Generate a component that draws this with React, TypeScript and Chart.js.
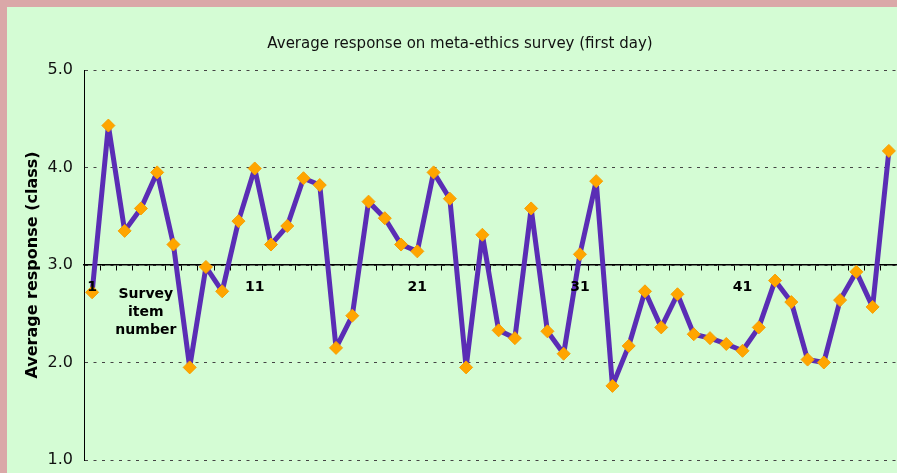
import React, { useEffect, useRef } from 'react';
import { Chart, registerables } from 'chart.js';

Chart.register(...registerables);

const categories = [
  '1', '2', '3', '4', '5', '6', '7', '8', '9', '10',
  '11', '12', '13', '14', '15', '16', '17', '18', '19', '20',
  '21', '22', '23', '24', '25', '26', '27', '28', '29', '30',
  '31', '32', '33', '34', '35', '36', '37', '38', '39', '40',
  '41', '42', '43', '44', '45', '46', '47', '48', '49', '50',
];
const shownTicks = ['1', '11', '21', '31', '41'];
const responses = [
  2.72, 4.43, 3.35, 3.58, 3.95, 3.21, 1.95, 2.98, 2.73, 3.45,
  3.99, 3.21, 3.40, 3.89, 3.82, 2.15, 2.48, 3.65, 3.48, 3.21,
  3.14, 3.95, 3.68, 1.95, 3.31, 2.33, 2.25, 3.58, 2.32, 2.09,
  3.11, 3.86, 1.76, 2.17, 2.73, 2.36, 2.70, 2.29, 2.25, 2.19,
  2.12, 2.36, 2.84, 2.62, 2.03, 2.00, 2.64, 2.93, 2.57, 4.17,
];
const yTicks = [1, 2, 3, 4, 5];
const xAxisCross = 3;
const chartTitle = 'Average response on meta-ethics survey (first day)';
const xTitleLines = ['Survey', 'item', 'number'];
const yTitle = 'Average response (class)';

const FONT = "'DejaVu Sans', Verdana, sans-serif";

const backgroundPlugin = {
  id: 'bgPlugin',
  beforeDraw(chart: any) {
    const { ctx, width, height } = chart;
    ctx.save();
    ctx.fillStyle = '#DAA8A8';
    ctx.fillRect(0, 0, width, height);
    ctx.fillStyle = '#D4FCD4';
    ctx.fillRect(7, 7, width - 7, height - 7);
    ctx.restore();
  },
};

const textPlugin = {
  id: 'textPlugin',
  afterDatasetsDraw(chart: any) {
    const { ctx, chartArea, scales } = chart;
    ctx.save();
    ctx.fillStyle = '#111';
    ctx.font = `15px ${FONT}`;
    ctx.textAlign = 'center';
    ctx.textBaseline = 'middle';
    ctx.fillText(chartTitle, 460, 44);

    ctx.fillStyle = '#000';
    ctx.font = `bold 14px ${FONT}`;
    const y0 = scales.y.getPixelForValue(xAxisCross);
    // category tick labels, drawn above the markers
    categories.forEach((c, i) => {
      if (shownTicks.includes(c)) {
        ctx.fillText(c, scales.x.getPixelForValue(i), y0 + 22);
      }
    });
    const x0 = (chartArea.left + scales.x.getPixelForValue(6)) / 2 + 9;
    xTitleLines.forEach((line, i) => {
      ctx.fillText(line, x0, y0 + 29 + i * 18);
    });
    ctx.restore();
  },
};

const zeroPad = (s: any) => {
  s.paddingTop = 0;
  s.paddingBottom = 0;
  s.paddingLeft = 0;
  s.paddingRight = 0;
};

export default function App() {
  const canvasRef = useRef<HTMLCanvasElement | null>(null);

  useEffect(() => {
    document.body.style.margin = '0';
    const canvas = canvasRef.current;
    if (!canvas) return;
    const chart = new Chart(canvas, {
      type: 'line',
      data: {
        labels: categories,
        datasets: [
          {
            data: responses,
            borderColor: '#5A2DB5',
            borderWidth: 5,
            borderJoinStyle: 'round',
            borderCapStyle: 'round',
            pointStyle: 'rectRot',
            pointRadius: 6.5,
            pointBackgroundColor: '#FFA500',
            pointBorderColor: '#F7A000',
            pointBorderWidth: 1,
            tension: 0,
            clip: false as any,
          },
        ],
      },
      options: {
        animation: false,
        responsive: false,
        layout: { autoPadding: false, padding: { top: 70, bottom: 13, left: 0, right: 0 } },
        plugins: {
          legend: { display: false },
          tooltip: { enabled: false },
          title: { display: false },
        },
        scales: {
          x: {
            type: 'category',
            position: { y: xAxisCross } as any,
            offset: true,
            afterFit: (s: any) => {
              zeroPad(s);
              s.height = 0;
            },
            grid: {
              offset: true,
              drawOnChartArea: false,
              drawTicks: true,
              tickLength: 5,
              color: '#000',
              lineWidth: 1,
            },
            border: { display: true, color: '#000', width: 1.5 },
            ticks: {
              display: false,
              autoSkip: false,
              maxRotation: 0,
              minRotation: 0,
            },
          },
          y: {
            type: 'linear',
            min: 1,
            max: 5,
            afterBuildTicks: (s: any) => {
              s.ticks = yTicks.map((v) => ({ value: v }));
            },
            afterFit: (s: any) => {
              s.width = 84;
              zeroPad(s);
            },
            grid: { color: '#444', lineWidth: 1, drawTicks: false, tickLength: 0 },
            border: { display: true, color: '#000', width: 1, dash: [3, 5.5] },
            ticks: {
              padding: 11,
              color: '#111',
              font: { family: FONT, size: 16 },
              callback: (v: any) => Number(v).toFixed(1),
            },
            title: {
              display: true,
              text: yTitle,
              color: '#000',
              font: { family: FONT, size: 16, weight: 'bold' },
              padding: { top: 23, bottom: 0 },
            },
          },
        },
      },
      plugins: [backgroundPlugin, textPlugin],
    } as any);
    return () => chart.destroy();
  }, []);

  return (
    <div style={{ position: 'absolute', left: 0, top: 0, width: 897, height: 473 }}>
      <canvas ref={canvasRef} width={897} height={473} style={{ display: 'block' }} />
    </div>
  );
}
